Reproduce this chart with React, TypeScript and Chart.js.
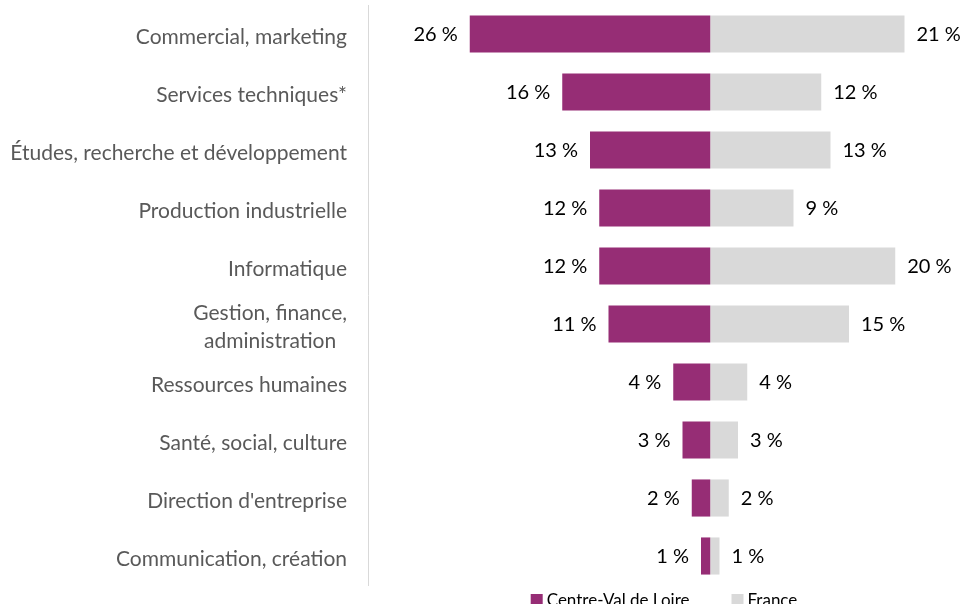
import React, { useEffect, useRef } from 'react';
import { Chart, registerables } from 'chart.js';

Chart.register(...registerables);

const categories: (string | string[])[] = [
  'Commercial, marketing',
  'Services techniques*',
  'Études, recherche et développement',
  'Production industrielle',
  'Informatique',
  ['Gestion, finance,', 'administration  '],
  'Ressources humaines',
  'Santé, social, culture',
  "Direction d'entreprise",
  'Communication, création',
];
const centreValDeLoire = [26, 16, 13, 12, 12, 11, 4, 3, 2, 1];
const france = [21, 12, 13, 9, 20, 15, 4, 3, 2, 1];
const seriesNames = ['Centre-Val de Loire', 'France'];
const seriesColors = ['#962D75', '#D9D9D9'];
const axisMin = -37;
const axisMax = 27;

const FONT = 'Lato';

const valueLabels = {
  id: 'valueLabels',
  afterDatasetsDraw(chart: any) {
    const ctx = chart.ctx;
    ctx.save();
    ctx.font = `20px ${FONT}`;
    ctx.fillStyle = '#000000';
    ctx.textBaseline = 'middle';
    chart.data.datasets.forEach((ds: any, di: number) => {
      const meta = chart.getDatasetMeta(di);
      meta.data.forEach((el: any, i: number) => {
        const v = ds.data[i] as number;
        const txt = `${Math.abs(v)} %`;
        if (v < 0) {
          ctx.textAlign = 'right';
          ctx.fillText(txt, el.x - 12, el.y + 1);
        } else {
          ctx.textAlign = 'left';
          ctx.fillText(txt, el.x + 12, el.y + 1);
        }
      });
    });
    ctx.restore();
  },
};

const bottomLegend = {
  id: 'bottomLegend',
  afterDraw(chart: any) {
    const { ctx, chartArea } = chart;
    ctx.save();
    ctx.font = `17px ${FONT}`;
    ctx.textBaseline = 'middle';
    ctx.textAlign = 'left';
    const box = 12;
    const gapText = 4;
    const gapItem = 42;
    const items = chart.data.datasets.map((ds: any) => ({
      label: ds.label as string,
      color: ds.backgroundColor as string,
      w: box + gapText + ctx.measureText(ds.label).width,
    }));
    const total = items.reduce((s: number, it: any) => s + it.w, 0) + gapItem * (items.length - 1);
    let x = (chartArea.left + chartArea.right) / 2 - total / 2;
    const yc = chartArea.bottom + 16;
    items.forEach((it: any) => {
      ctx.fillStyle = it.color;
      ctx.fillRect(x, yc - box / 2 - 1, box, box);
      ctx.fillStyle = '#000000';
      ctx.fillText(it.label, x + box + gapText, yc);
      x += it.w + gapItem;
    });
    ctx.restore();
  },
};

export default function App() {
  const canvasRef = useRef<HTMLCanvasElement | null>(null);

  useEffect(() => {
    if (!canvasRef.current) return;
    const chart = new Chart(canvasRef.current, {
      type: 'bar',
      data: {
        labels: categories,
        datasets: [
          {
            label: seriesNames[0],
            data: centreValDeLoire.map((v) => -v),
            backgroundColor: seriesColors[0],
            borderWidth: 0,
            categoryPercentage: 0.64,
            barPercentage: 1,
          },
          {
            label: seriesNames[1],
            data: france,
            backgroundColor: seriesColors[1],
            borderWidth: 0,
            categoryPercentage: 0.64,
            barPercentage: 1,
          },
        ],
      },
      options: {
        indexAxis: 'y',
        animation: false,
        responsive: false,
        maintainAspectRatio: false,
        layout: { padding: { top: 5, bottom: 19, left: 0, right: 0 } },
        plugins: {
          legend: { display: false },
          tooltip: { enabled: false },
        },
        scales: {
          x: {
            stacked: true,
            min: axisMin,
            max: axisMax,
            display: false,
          },
          y: {
            stacked: true,
            grid: { display: false, drawTicks: false },
            border: { display: true, color: '#D9D9D9', width: 1 },
            ticks: {
              autoSkip: false,
              padding: 21,
              labelOffset: 3,
              color: '#595959',
              font: { family: FONT, size: 21, lineHeight: 1.35 },
            },
            afterFit: (scale: any) => {
              scale.width = 368;
              scale.paddingTop = 0;
              scale.paddingBottom = 0;
            },
          },
        },
      },
      plugins: [valueLabels, bottomLegend],
    });
    return () => chart.destroy();
  }, []);

  return (
    <div style={{ position: 'fixed', left: 0, top: 0, width: 960, height: 604, overflow: 'hidden', background: '#fff' }}>
      <canvas ref={canvasRef} width={960} height={604} style={{ width: 960, height: 604, display: 'block' }} />
    </div>
  );
}
